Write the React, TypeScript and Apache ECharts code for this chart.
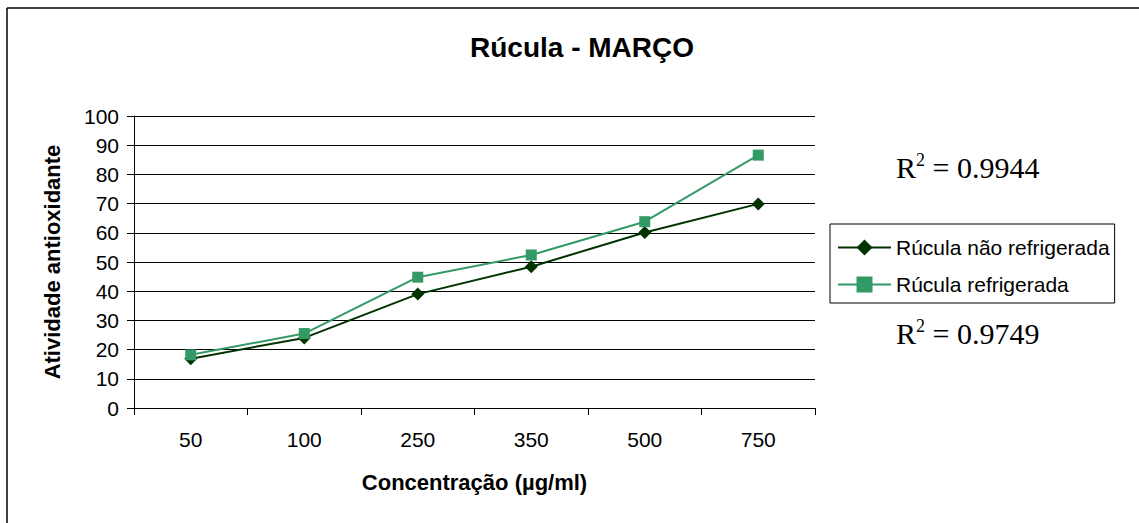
import React, { useEffect, useRef } from "react";
import * as echarts from "echarts";

const categories = ["50", "100", "250", "350", "500", "750"];
const naoRefrigerada = [16.9, 24.0, 39.0, 48.4, 60.1, 69.9];
const refrigerada = [18.2, 25.5, 44.8, 52.4, 63.8, 86.6];
const yTicks = { min: 0, max: 100, interval: 10 };
const r2Labels = ["0.9944", "0.9749"];

const SANS = "'Liberation Sans', Arial, sans-serif";
const SERIF = "'Liberation Serif', 'Times New Roman', serif";

export default function App() {
  const ref = useRef<HTMLDivElement>(null);
  useEffect(() => {
    if (!ref.current) return;
    const chart = echarts.init(ref.current, null, { renderer: "svg" });
    const r2Text = (v: string) => ({
      text: `{r|R}{s|2}{r| = ${v}}`,
      rich: {
        r: { fontFamily: SERIF, fontSize: 30, fill: "#000" },
        s: { fontFamily: SERIF, fontSize: 18, fill: "#000", padding: [0, 0, 14, 0] },
      },
    });
    chart.setOption({
      animation: false,
      backgroundColor: "#fff",
      title: {
        text: "Rúcula - MARÇO",
        left: 577,
        top: 28,
        textAlign: "center",
        textStyle: { fontFamily: SANS, fontWeight: "bold", fontSize: 28, color: "#000" },
      },
      grid: { left: 134, right: 324, top: 116, bottom: 115 },
      legend: {
        orient: "vertical",
        left: 830,
        top: 224,
        borderColor: "#000",
        borderWidth: 1,
        padding: [13, 5, 8, 7],
        itemWidth: 53,
        itemHeight: 20,
        itemGap: 16,
        textStyle: { fontFamily: SANS, fontSize: 21, color: "#000" },
        data: ["Rúcula não refrigerada", "Rúcula refrigerada"],
      },
      xAxis: {
        type: "category",
        data: categories,
        boundaryGap: true,
        name: "Concentração (µg/ml)",
        nameLocation: "middle",
        nameGap: 63,
        nameTextStyle: { fontFamily: SANS, fontWeight: "bold", fontSize: 22, color: "#000" },
        axisLine: { lineStyle: { color: "#000", width: 1 } },
        axisTick: { show: true, length: 7, lineStyle: { color: "#000" } },
        axisLabel: { fontFamily: SANS, fontSize: 21, color: "#000", margin: 21 },
        splitLine: { show: false },
      },
      yAxis: {
        type: "value",
        min: yTicks.min,
        max: yTicks.max,
        interval: yTicks.interval,
        name: "Atividade antioxidante",
        nameLocation: "middle",
        nameGap: 71,
        nameTextStyle: { fontFamily: SANS, fontWeight: "bold", fontSize: 22, color: "#000" },
        axisLine: { show: true, lineStyle: { color: "#000", width: 1 } },
        axisTick: { show: true, length: 7, lineStyle: { color: "#000" } },
        axisLabel: { fontFamily: SANS, fontSize: 21, color: "#000", margin: 15 },
        splitLine: { show: true, lineStyle: { color: "#000", width: 1 } },
      },
      series: [
        {
          name: "Rúcula não refrigerada",
          type: "line",
          data: naoRefrigerada,
          symbol: "diamond",
          symbolSize: 13,
          color: "#003300",
          lineStyle: { color: "#003300", width: 2 },
          itemStyle: { color: "#003300" },
        },
        {
          name: "Rúcula refrigerada",
          type: "line",
          data: refrigerada,
          symbol: "rect",
          symbolSize: 11,
          color: "#339966",
          lineStyle: { color: "#339966", width: 2 },
          itemStyle: { color: "#339966" },
        },
      ],
      graphic: [
        { type: "line", shape: { x1: 7, y1: 8, x2: 7, y2: 523 }, style: { stroke: "#000", lineWidth: 1.5 } },
        { type: "line", shape: { x1: 7, y1: 8, x2: 1139, y2: 8 }, style: { stroke: "#000", lineWidth: 1.5 } },
        { type: "text", left: 896, top: 151, style: r2Text(r2Labels[0]) },
        { type: "text", left: 896, top: 317, style: r2Text(r2Labels[1]) },
      ],
    });
    return () => chart.dispose();
  }, []);
  return (
    <div
      ref={ref}
      style={{ position: "fixed", left: 0, top: 0, width: 1139, height: 523, background: "#fff" }}
    />
  );
}
